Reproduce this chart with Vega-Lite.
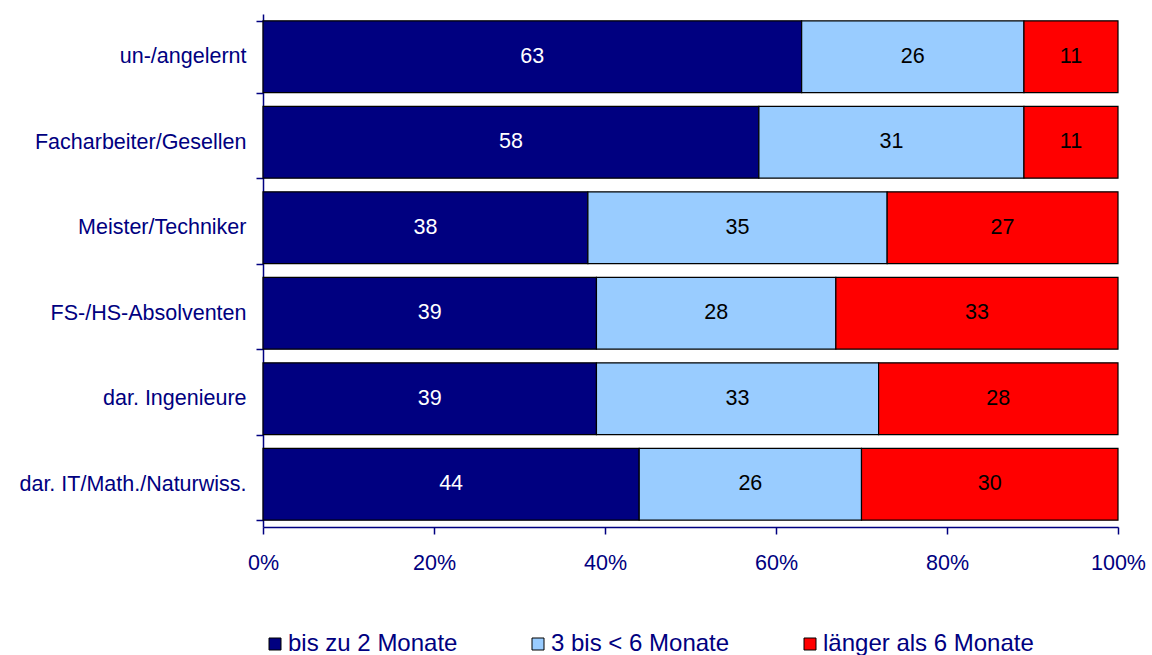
{
  "$schema": "https://vega.github.io/schema/vega-lite/v6.json",
  "autosize": {"type": "none"},
  "width": 855,
  "height": 513,
  "padding": {"left": 263, "top": 14, "right": 34, "bottom": 128},
  "background": "white",
  "config": {
    "view": {"stroke": null},
    "font": "Liberation Sans, Arial, sans-serif"
  },
  "data": {
    "values": [
      {"cat": "un-/angelernt", "series": "bis zu 2 Monate", "o": 1, "value": 63},
      {"cat": "un-/angelernt", "series": "3 bis < 6 Monate", "o": 2, "value": 26},
      {"cat": "un-/angelernt", "series": "länger als 6 Monate", "o": 3, "value": 11},
      {"cat": "Facharbeiter/Gesellen", "series": "bis zu 2 Monate", "o": 1, "value": 58},
      {"cat": "Facharbeiter/Gesellen", "series": "3 bis < 6 Monate", "o": 2, "value": 31},
      {"cat": "Facharbeiter/Gesellen", "series": "länger als 6 Monate", "o": 3, "value": 11},
      {"cat": "Meister/Techniker", "series": "bis zu 2 Monate", "o": 1, "value": 38},
      {"cat": "Meister/Techniker", "series": "3 bis < 6 Monate", "o": 2, "value": 35},
      {"cat": "Meister/Techniker", "series": "länger als 6 Monate", "o": 3, "value": 27},
      {"cat": "FS-/HS-Absolventen", "series": "bis zu 2 Monate", "o": 1, "value": 39},
      {"cat": "FS-/HS-Absolventen", "series": "3 bis < 6 Monate", "o": 2, "value": 28},
      {"cat": "FS-/HS-Absolventen", "series": "länger als 6 Monate", "o": 3, "value": 33},
      {"cat": "dar. Ingenieure", "series": "bis zu 2 Monate", "o": 1, "value": 39},
      {"cat": "dar. Ingenieure", "series": "3 bis < 6 Monate", "o": 2, "value": 33},
      {"cat": "dar. Ingenieure", "series": "länger als 6 Monate", "o": 3, "value": 28},
      {"cat": "dar. IT/Math./Naturwiss.", "series": "bis zu 2 Monate", "o": 1, "value": 44},
      {"cat": "dar. IT/Math./Naturwiss.", "series": "3 bis < 6 Monate", "o": 2, "value": 26},
      {"cat": "dar. IT/Math./Naturwiss.", "series": "länger als 6 Monate", "o": 3, "value": 30}
    ]
  },
  "transform": [
    {"stack": "value", "groupby": ["cat"], "sort": [{"field": "o", "order": "ascending"}], "as": ["v0", "v1"], "offset": "normalize"},
    {"calculate": "(datum.v0 + datum.v1) / 2", "as": "mid"}
  ],
  "encoding": {
    "y": {
      "field": "cat",
      "type": "nominal",
      "sort": ["un-/angelernt", "Facharbeiter/Gesellen", "Meister/Techniker", "FS-/HS-Absolventen", "dar. Ingenieure", "dar. IT/Math./Naturwiss."],
      "scale": {"paddingInner": 0.16, "paddingOuter": 0.08},
      "axis": {
        "title": null,
        "domainColor": "#000080",
        "domainWidth": 1.5,
        "tickColor": "#000080",
        "tickWidth": 1.5,
        "tickSize": 7,
        "tickBand": "extent",
        "labelColor": "#000080",
        "labelFont": "Liberation Sans, Arial, sans-serif",
        "labelFontSize": 21.5,
        "labelPadding": 10,
        "labelLimit": 400
      }
    }
  },
  "layer": [
    {
      "mark": {"type": "bar", "stroke": "black", "strokeWidth": 1.2},
      "encoding": {
        "x": {
          "field": "v0",
          "type": "quantitative",
          "scale": {"domain": [0, 1], "nice": false, "zero": true},
          "axis": {
            "title": null,
            "values": [0, 0.2, 0.4, 0.6, 0.8, 1],
            "format": ".0%",
            "grid": false,
            "domainColor": "#000080",
            "domainWidth": 1.5,
            "tickColor": "#000080",
            "tickWidth": 1.5,
            "tickSize": 7,
            "labelColor": "#000080",
            "labelFont": "Liberation Sans, Arial, sans-serif",
            "labelFontSize": 21.5,
            "labelPadding": 18,
            "labelFlush": false
          }
        },
        "x2": {"field": "v1"},
        "color": {
          "field": "series",
          "type": "nominal",
          "sort": ["bis zu 2 Monate", "3 bis < 6 Monate", "länger als 6 Monate"],
          "scale": {
            "domain": ["bis zu 2 Monate", "3 bis < 6 Monate", "länger als 6 Monate"],
            "range": ["#000080", "#99CCFF", "#FF0000"]
          },
          "legend": {
            "title": null,
            "orient": "none",
            "legendX": 0,
            "legendY": 618,
            "direction": "horizontal",
            "columns": 3,
            "columnPadding": 68,
            "symbolType": "square",
            "symbolSize": 144,
            "symbolStrokeColor": "black",
            "symbolStrokeWidth": 1,
            "symbolOpacity": 1,
            "labelOffset": 1,
            "labelColor": "#000080",
            "labelFont": "Liberation Sans, Arial, sans-serif",
            "labelFontSize": 24,
            "labelLimit": 400
          }
        }
      }
    },
    {
      "mark": {"type": "text", "fontSize": 21.5, "font": "Liberation Sans, Arial, sans-serif", "baseline": "middle", "align": "center"},
      "encoding": {
        "x": {"field": "mid", "type": "quantitative"},
        "text": {"field": "value", "type": "quantitative"},
        "color": {
          "condition": {"test": "datum.o === 1", "value": "white"},
          "value": "black"
        }
      }
    }
  ]
}
